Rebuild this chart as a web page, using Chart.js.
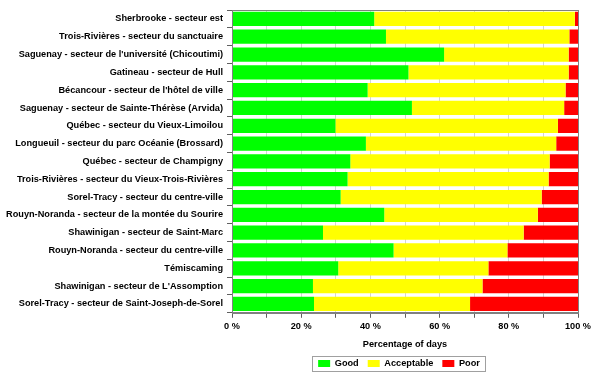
<!DOCTYPE html>
<html>
<head>
<meta charset="utf-8">
<script src="https://cdn.jsdelivr.net/npm/chart.js@4/dist/chart.umd.min.js"></script>
<style>
html,body{margin:0;padding:0;background:#fff;}
#wrap{width:600px;height:378px;position:relative;}
</style>
</head>
<body>
<div id="wrap"><canvas id="c" width="600" height="378"></canvas></div>
<script>
const categories = [
  "Sherbrooke - secteur est",
  "Trois-Rivières - secteur du sanctuaire",
  "Saguenay - secteur de l'université (Chicoutimi)",
  "Gatineau - secteur de Hull",
  "Bécancour - secteur de l'hôtel de ville",
  "Saguenay - secteur de Sainte-Thérèse (Arvida)",
  "Québec - secteur du Vieux-Limoilou",
  "Longueuil - secteur du parc Océanie (Brossard)",
  "Québec - secteur de Champigny",
  "Trois-Rivières - secteur du Vieux-Trois-Rivières",
  "Sorel-Tracy - secteur du centre-ville",
  "Rouyn-Noranda - secteur de la montée du Sourire",
  "Shawinigan - secteur de Saint-Marc",
  "Rouyn-Noranda - secteur du centre-ville",
  "Témiscaming",
  "Shawinigan - secteur de L'Assomption",
  "Sorel-Tracy - secteur de Saint-Joseph-de-Sorel"
];
const good       = [41.1,44.5,61.3,51.0,39.2,52.0,29.9,38.7,34.2,33.4,31.4,44.0,26.3,46.7,30.7,23.4,23.7];
const acceptable = [58.0,53.0,36.0,46.3,57.2,44.0,64.3,55.0,57.6,58.1,58.1,44.4,58.0,32.9,43.4,49.0,45.1];
const poor       = [0.9,2.5,2.7,2.7,3.6,4.0,5.8,6.3,8.2,8.5,10.5,11.6,15.7,20.4,25.9,27.6,31.2];
const seriesNames = ["Good","Acceptable","Poor"];
const xTickLabels = ["0 %","20 %","40 %","60 %","80 %","100 %"];
const xTitle = "Percentage of days";

const FONT = "'Liberation Sans', Arial, sans-serif";
const LEGEND_PAD = 9;

const framePlugin = {
  id: 'frame',
  afterUpdate(chart) {
    const lg = chart.legend;
    if (lg) {
      lg.left = 220; lg.right = 578; lg.width = 358;
    }
  },
  afterDraw(chart) {
    const ctx = chart.ctx, a = chart.chartArea;
    ctx.save();
    ctx.strokeStyle = '#808080';
    ctx.lineWidth = 1;
    ctx.strokeRect(Math.round(a.left)+0.5, Math.round(a.top)+0.5, Math.round(a.right-a.left), Math.round(a.bottom-a.top));
    const lg = chart.legend;
    if (lg && lg.lineWidths && lg.lineWidths.length) {
      const w = lg.lineWidths[0];
      const cx = (lg.left + lg.right) / 2;
      const x0 = Math.round(cx - w / 2 - 2);
      const y0 = Math.round(lg.top + LEGEND_PAD - 3);
      ctx.strokeStyle = '#a0a0a0';
      ctx.strokeRect(x0 + 0.5, y0 + 0.5, Math.round(w + 2), 15);
    }
    ctx.restore();
  }
};

new Chart(document.getElementById('c'), {
  type: 'bar',
  data: {
    labels: categories,
    datasets: [
      { label: seriesNames[0], data: good, backgroundColor: '#00ff00' },
      { label: seriesNames[1], data: acceptable, backgroundColor: '#ffff00' },
      { label: seriesNames[2], data: poor, backgroundColor: '#ff0000' }
    ]
  },
  options: {
    indexAxis: 'y',
    responsive: false,
    animation: false,
    devicePixelRatio: 1,
    layout: { padding: { top: 10, right: 22, left: 4, bottom: 0 } },
    datasets: { bar: { categoryPercentage: 0.8, barPercentage: 1.0, borderWidth: 0 } },
    scales: {
      x: {
        stacked: true, min: 0, max: 100,
        ticks: {
          stepSize: 10, autoSkip: false, maxRotation: 0,
          color: '#000', font: { family: FONT, size: 9.2, weight: 'bold' }, padding: 3,
          callback: (v) => (v % 20 === 0 ? xTickLabels[v / 20] : '')
        },
        grid: { color: '#d4d4d4', tickColor: '#606060', tickLength: 5, drawTicks: true },
        border: { color: '#808080' },
        title: { display: true, text: xTitle, color: '#000', font: { family: FONT, size: 9.2, weight: 'bold' }, padding: { top: 0, bottom: 0 } },
        afterFit(scale) { scale.height = 37; }
      },
      y: {
        stacked: true,
        ticks: { color: '#000', font: { family: FONT, size: 9.2, weight: 'bold' }, padding: 4, autoSkip: false },
        grid: { drawOnChartArea: false, tickColor: '#606060', tickLength: 5 },
        border: { color: '#808080' },
        afterFit(scale) { scale.width = 228; }
      }
    },
    plugins: {
      legend: {
        position: 'bottom',
        labels: { boxWidth: 12, boxHeight: 7, color: '#000', font: { family: FONT, size: 9.2, weight: 'bold' }, padding: LEGEND_PAD }
      },
      tooltip: { enabled: false }
    }
  },
  plugins: [framePlugin]
});
</script>
</body>
</html>
